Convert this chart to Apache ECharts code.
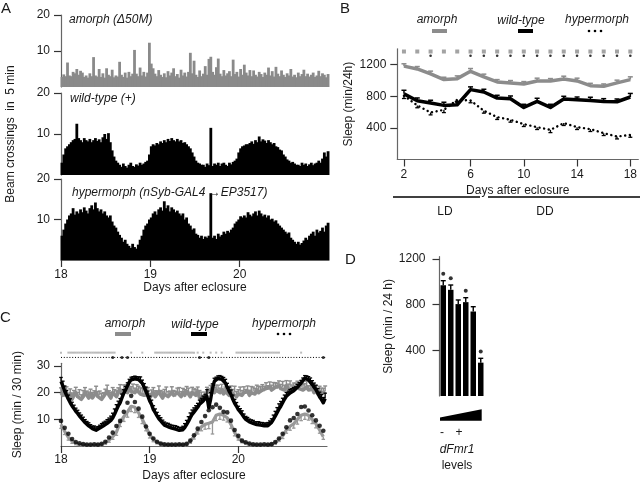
<!DOCTYPE html>
<html><head><meta charset="utf-8">
<script src="https://cdn.jsdelivr.net/npm/echarts@6/dist/echarts.min.js"></script>
<style>html,body{margin:0;padding:0;background:#fff}#c{width:640px;height:483px}</style>
</head><body><div id="c"></div>
<script>
// ---------- Panel A: beam crossings per bin (30-min display bins, days 18-21) ----------
const histStartDay = 18;
const histBinsPerDay = 48;
const histAmorph = [2.8,3.5,3,6.8,3.2,3,4.2,3.8,5,3.4,
4.5,4,2.8,3.2,2.6,3.8,3,8.3,3.2,2.9,
5,2.8,3.8,2.6,5.2,3.4,3,4.8,2.7,3.2,
2.9,7,3.4,2.8,4,2.6,4.2,3,3.7,10.3,
3.7,3,5.4,3.2,4.2,2.9,4,12.3,6.5,5.2,
3.7,3,4.7,3.4,2.8,3.8,2.7,4.4,3.2,4,
5.2,3,3.6,2.6,4.8,3.2,4,2.9,4.2,9.5,
3.8,7.3,3.4,2.8,4.6,3,3.7,5.8,3.4,7.8,
8.4,4.2,3.4,5.5,7.9,3.7,3,4.7,3.2,3.8,
4.4,3,7.6,3.6,4.2,2.9,5,3.4,6.2,4,
3.2,4.7,3,4.6,3.4,2.9,4.2,3.6,2.8,4,
3.4,5.4,3.2,4.4,2.9,5.6,3.7,3,4.6,3.4,
2.8,3.8,3.2,5,2.9,3.4,2.7,4,3,3.6,
4.8,3,3.7,2.9,3.4,4,2.8,3.2,4.5,3,
3.8,3.4,2.7,3.6];
const histWild = [3,5,6.5,7, 7.5,8,8.5,8.8, 12.5,
9,8.5,8,9,8.5,8.2,8.8,8,8.5,9,8.3,8.7,8,9.2,10,8.8,10.2,
8,6,4.5,3.5,3,
2.5,2,2.8,2.2,1.8,2.5,3,2.2,2,2.6,2.3,3,2.5,2.8,3.2,3.5,
5,7,7.5,
7.2,7.8,7.5,8.2,7.8,8.5,8,8.8,8.3,9,8.5,8.2,8.8,8.2,8.5,7.8,8,7.5,7,6.5,
5.5,4.5,3.5,3,2.8,2.5,
2.5,2,2.8,2.4,11.5,2.2,2.8,
2.5,3,2.2,2.8,3,2.5,2.2,3,2.6,3.2,3.5,4,
5.5,6.5,7,7.2,7.5,
7.5,7.8,8.2,7.6,8.5,8,9.4,8.2,8.7,8.4,7.8,8.5,8,7.5,7.8,7,6.8,6.2,6,
5,4.5,3.8,3.5,3,3.2,2.8,2.5,
2.5,2.2,3,2.5,2.8,2.2,2.6,3,2.4,2.8,3,3.5,3,4,5.5,4.5,5.8];
const histHyper = [6,7.5,9,10,11, 11.5,12.8,11.2,12,11.5, 12.5,11.8,13,12.2,11.5,12.8,
13.5,12.5,14.2,12.8,12,12.5, 11.5,12,11,10.5,11, 9.5,8.5,8,7,6.2, 5.5,4.5,5,4,3.5,
3,4,3.2,2.8,3.8,5, 6,7.5,8.5,9,10, 10.5,11.5,12,11.2,12.5,13, 12.2,14.5,12.8,13.5,12,13,
12.5,11.8,12.2,11.5,11,11.5, 10,10.5,9,8.5,7.5, 7.8,6.5,6.2,5.5,6,5.2, 5.8,5.5,6,16.5,
5.5,6,5.2,6.5,5.8,6.2,7, 6.5,7.2,6.8,7.5,8, 9,9.5,10,10.8,10.5, 11,10.5,11.8,11.2,10.8,11.5,
12,11,12.2,11.5,10.8,11.2, 10.5,11,10,10.2,9.5, 9.8,9,8.5,8,7.5, 7,6.5,6.8,5.5,5,
4.5,4,4.5,3.8,4.2, 4.8,5.5,5,6,6.5, 7,6,7.5,6.8,7.2, 8,7,8.5,9.2];
const histTicks = [18,19,20];
const histYTicks = [10,20];

// ---------- Panel B: daily sleep (min/24h) ----------
const bDays = [1,2,3,4,5,6,7,8,9,10,11,12,13,14,15,16,17,18];
const bTickValues = [1,6,10,14,18];
const bTickLabels = ['2','6','10','14','18'];
const bAmorph = [1180,1145,1082,1010,1022,1115,1044,980,968,955,993,993,1018,993,933,925,968,1010];
const bAmorphErr = [30,30,35,30,35,35,35,30,30,30,35,30,35,35,30,30,35,35];
const bWild = [830,743,714,684,692,883,853,777,768,658,734,658,764,755,747,734,730,790];
const bWildErr = [45,35,35,40,40,35,35,35,35,40,40,40,35,35,40,35,35,45];
const bHyper = [806,684,594,628,755,747,616,536,502,447,409,375,460,409,384,333,290,311];
const bHyperErr = [35,30,30,35,35,30,30,30,30,30,30,35,30,30,30,30,30,30];
const bSigAmorphDays = [1,2,3,4,5,6,7,8,9,10,11,12,13,14,15,16,17,18];
const bSigHyperDays = [3,6,7,8,9,10,11,12,13,14,15,16,17,18];

// ---------- Panel C: sleep per 30 min, days 18-21 ----------
const cStartDay = 18;
const cBinsPerDay = 48;
const cHoursPerDay = 24;
const cWild = [24.2,22.5,20.5,19,17.5,16.2,15,14,13,12.2,
11.2,10.5,9.6,8.8,8.2,7.5,6.9,6.5,6.2,5.9,
6.3,6.7,7.2,7.6,8.1,8.5,9,9.6,10.5,11.9,
13.5,15,16.2,18,19.8,21.1,22.6,24,24.8,25,
25.2,25,24.9,24.8,23.5,22,20.5,18.8,16.9,15.6,
13.6,12.5,11.3,10.2,9.4,8.6,7.8,7.5,7.2,6.9,
6.7,6.5,6.3,6.1,5.9,5.7,6.1,6.9,8,9.2,
10.6,11.8,12.7,13.6,14.5,15.6,16.2,16.9,17.4,18.6,
14.3,17.5,21.5,24.2,24.8,25.3,25.4,25,24.5,23.6,
22,20.5,19.3,17.5,16,14.9,13.6,12.8,11.9,10.8,
10,9.5,9,8.8,8.5,8.1,8,7.9,7.8,7.7,
7.6,7.5,7.6,8.1,8.8,10,11.2,12.5,13.8,14.9,
16.2,17.5,18.6,19.2,19.9,20.3,20.7,21.1,22,22.8,
23.6,24.5,25.4,25.2,24.8,24.2,23,22,21.1,19.8,
18.4,17.4,16.2,17.8];
const cWildErr = [1.5,1.8,2,1.8,1.6,1.5,1.4,1.3,1.2,1.2,
1.2,1.1,1.2,1.1,1,1.2,1.1,1,1.3,1.2,
1,1.1,1.2,1.3,1.2,1.4,1.5,1.6,1.8,2,
2,1.8,1.6,1.5,1.3,1.2,1.1,1,1,1,
1,1,1,1.1,1.2,1.4,1.6,1.8,1.8,1.6,
1.5,1.4,1.3,1.2,1.2,1.1,1.2,1.1,1.3,1.2,
1.1,1.2,1.3,1.2,1.1,1.2,1.3,1.5,1.6,1.8,
1.8,1.7,1.6,1.5,1.5,1.6,1.7,1.8,2,2.5,
3,2.5,1.8,1.2,1,1,1,1.1,1.2,1.4,
1.5,1.6,1.7,1.6,1.5,1.4,1.3,1.2,1.3,1.2,
1.1,1.2,1.1,1,1.1,1,1.1,1.2,1,1.1,
1,1.1,1.2,1.3,1.4,1.6,1.8,1.9,2,1.8,
1.7,1.6,1.5,1.4,1.3,1.2,1.2,1.1,1.1,1,
1,1,1,1.1,1.2,1.3,1.5,1.6,1.7,1.8,
1.8,1.9,2,2];
const cAmorph = [20,19,18.5,20,18,19.5,17.5,19,20,18.5,
19,17.5,18.5,20,19,18,19.5,18,19,20,
18.5,19,17.5,18,19.5,20.5,19,18,20,19.5,
18.5,20,21,19.5,20.5,21,20,21.5,20.5,21,
20,21,20.5,19.5,20,19,18.5,19.5,18,19,
20,18.5,19,20.5,19,18,19.5,20,18.5,19,
20,19,18.5,20,19.5,18.5,20,19,20.5,19.5,
18.5,20,19.5,19,20.5,18,17,16.5,18.5,20,
19.5,20.5,21,20,21,20.5,20,21,19.5,20.5,
20,19,20.5,19.5,20,18.5,19.5,20,19,20,
19.5,20.5,19,20,20.5,19.5,21,20,20.5,21,
20.5,21.5,21,22,21,21.5,22,21.5,22.5,21.5,
22,21,22.5,21.5,22,21,22,21.5,22.5,21.5,
22,21,21.5,22,21,20.5,21.5,20,21,19.5,
20.5,19.5,20,20.5];
const cAmorphErr = [1.8,2,1.6,2.2,1.7,1.9,2.4,1.8,2,1.6,
2.1,1.7,2.3,1.9,1.6,2.2,1.8,2,1.7,2.4,
1.9,1.6,2.2,2,1.8,2.3,1.7,2.1,1.9,1.6,
2.2,1.8,2,1.7,2.4,1.9,1.6,2.1,1.8,2.2,
1.7,2,1.9,2.3,1.6,2.1,1.8,2.4,1.7,2,
1.9,2.2,1.6,2,1.8,2.3,1.7,2.1,1.9,1.6,
2.2,1.8,2,1.7,2.4,1.9,1.6,2.1,1.8,2.2,
1.7,2,1.9,2.3,1.6,2.8,3.2,2.5,1.7,2,
1.9,2.2,1.6,2,1.8,2.3,1.7,2.1,1.9,1.6,
2.2,1.8,2,1.7,2.4,1.9,1.6,2.1,1.8,2.2,
1.7,2,1.9,2.3,1.6,2.1,1.8,2.4,1.7,2,
1.9,2.2,1.6,2,1.8,2.3,1.7,2.1,1.9,1.6,
2.2,1.8,2,1.7,2.4,1.9,1.6,2.1,1.8,2.2,
1.7,2,1.9,2.3,1.6,2.1,1.8,2.4,1.7,2,
1.9,2.2,1.6,2];
// hourly values
const cHyper = [9.4,6.8,4.6,2.6,1.5,1,0.7,0.5,0.5,0.6,0.5,0.8,
1.6,3.2,5,7.5,9.4,12.8,16.2,18.8,16.5,14,11,7.3,
4.6,2.8,1.6,0.9,0.6,0.5,0.5,0.5,0.6,0.5,0.8,2,
4,6.5,9,11.2,13.4,14.5,15.5,14.3,12.8,12.6,9.5,6,
3.8,2,1.4,0.9,0.6,0.5,0.5,0.6,0.5,0.7,1.5,2.8,
4.6,7,9.6,10.5,12,14.6,14.8,13.3,11.5,9.6,7.6,5.7];
const cLow = [8.1,5.5,3.2,1.8,1,0.5,0.4,0.3,0.3,0.3,0.4,0.5,
1.2,2.2,3.5,5.2,8.8,11,12.8,14.9,14.5,12.5,10,7.2,
4.2,2.4,1.4,0.8,0.5,0.4,0.3,0.3,0.4,0.4,0.6,1.8,
3.6,5.7,7.2,8.1,8.5,9,11.5,12,11.5,10.6,8.1,5,
3,1.8,1,0.6,0.4,0.3,0.3,0.3,0.4,0.6,1.2,2.5,
3.8,6,7.4,8.3,10,11.5,12,11.5,10,8.3,6,3.5];
const cLowErr = [1.5,1.2,1,0.8,0.5,0.3,0.3,0.2,0.2,0.2,0.3,0.3,
0.6,0.8,1,1.2,1.5,1.8,2,2,2,1.8,1.6,1.5,
1.2,0.8,0.6,0.4,0.3,0.2,0.2,0.2,0.3,0.3,0.4,0.8,
1,1.2,1.5,1.8,2,4.5,2,2,1.8,1.6,1.5,1.2,
0.8,0.6,0.4,0.3,0.2,0.2,0.2,0.3,0.3,0.4,0.6,0.8,
1,1.2,1.5,1.6,1.8,2,2,1.8,1.6,1.5,1.2,1];
const cSigAmorphBins = [0,4,5,6,7,8,9,10,11,12,13,14,15,16,17,18,19,20,21,22,23,24,25,26,27,28,29,38,44,
51,52,53,54,55,56,57,58,59,60,61,62,63,64,65,66,67,68,69,70,71,72,74,77,81,84,87,
95,96,97,98,99,100,101,102,103,104,105,106,107,108,109,110,111,112,113,114,115,116,117,118,130];
const cSigHyperBins = [28,33,36,75,80,142];
const cTicks = [18,19,20];
const cYTicks = [10,20,30];

// ---------- Panel D: sleep vs dFmr1 level ----------
const dGroups = ['1','2','3','4','5','6'];
const dSleep = [970,930,805,822,740,292];
const dErr = [40,42,36,39,42,38];
const dSigIdx = [0,1,3,5];
const dYTicks = [400,800,1200];

// ---------- rendering ----------
const FONT = '"Liberation Sans", Arial, sans-serif';
const GRAY = '#8c8c8c';
const INK = '#1a1a1a';

const histData = arr => arr.map((v, i) => [histStartDay + (i + 0.5) / histBinsPerDay, v]);
const cBinData = arr => arr.map((v, i) => [cStartDay + i / cBinsPerDay, v]);
const cHourData = arr => arr.map((v, i) => [cStartDay + i / cHoursPerDay, v]);

function errSeries(xi, yi, pts, dir, color, capW, lw, z) {
  return {
    type: 'custom', xAxisIndex: xi, yAxisIndex: yi, z: z, silent: true, clip: false,
    data: pts,
    renderItem: (params, api) => {
      const x = api.value(0), y = api.value(1), e = api.value(2);
      const p0 = api.coord([x, y]);
      const p1 = api.coord([x, y + dir * e]);
      return { type: 'group', children: [
        { type: 'line', shape: { x1: p0[0], y1: p0[1], x2: p1[0], y2: p1[1] }, style: { stroke: color, lineWidth: lw } },
        { type: 'line', shape: { x1: p1[0] - capW / 2, y1: p1[1], x2: p1[0] + capW / 2, y2: p1[1] }, style: { stroke: color, lineWidth: lw } }
      ]};
    }
  };
}

function txt(text, x, y, o) {
  o = o || {};
  return { type: 'text', x: x, y: y, rotation: o.rot || 0, silent: true, z: 100,
    style: { text: text, fill: INK, font: (o.italic ? 'italic ' : '') + (o.size || 12) + 'px ' + FONT,
      align: o.align || 'center', verticalAlign: o.va || 'middle' } };
}
function seg(x1, y1, x2, y2, color, w) {
  return { type: 'line', silent: true, z: 100, shape: { x1, y1, x2, y2 }, style: { stroke: color, lineWidth: w } };
}
function dot(cx, cy, r) {
  return { type: 'circle', silent: true, z: 100, shape: { cx, cy, r }, style: { fill: '#000' } };
}

const axLine = { show: true, lineStyle: { color: '#666', width: 1.2 } };
const tickStyle = { color: '#333', width: 1.2 };
const lab = { color: INK, fontSize: 12, fontFamily: FONT };
const plain = v => String(v);

function histY(grid) {
  return { gridIndex: grid, type: 'value', min: 0, max: 20,
    axisLine: axLine, splitLine: { show: false },
    axisTick: { show: true, length: 7, customValues: histYTicks, lineStyle: tickStyle },
    axisLabel: Object.assign({ customValues: histYTicks, margin: 11, formatter: plain }, lab) };
}
function hiddenX(grid) {
  return { gridIndex: grid, type: 'value', min: 18, max: 21, show: false };
}
function histSeries(name, grid, arr, color) {
  return { name: name, type: 'bar', xAxisIndex: grid, yAxisIndex: grid, data: histData(arr),
    barWidth: 2.8, itemStyle: { color: color } };
}

const option = {
  animation: false,
  backgroundColor: '#fff',
  textStyle: { fontFamily: FONT },
  grid: [
    { left: 61, top: 15, width: 268, height: 72 },
    { left: 61, top: 93, width: 268, height: 82 },
    { left: 61, top: 179, width: 268, height: 81 },
    { left: 397.3, top: 48.75, width: 242.7, height: 110.75 },
    { left: 61, top: 363.3, width: 266, height: 83.2 },
    { left: 439.5, top: 256.7, width: 45, height: 139.3 }
  ],
  xAxis: [
    hiddenX(0), hiddenX(1),
    { gridIndex: 2, type: 'value', min: 18, max: 21, axisLine: axLine, splitLine: { show: false },
      axisTick: { show: true, length: 7, customValues: histTicks, lineStyle: tickStyle },
      axisLabel: Object.assign({ customValues: histTicks, margin: 9, formatter: plain }, lab),
      name: 'Days after eclosure', nameLocation: 'middle', nameGap: 28,
      nameTextStyle: Object.assign({ verticalAlign: 'middle' }, lab) },
    { gridIndex: 3, type: 'value', min: 0.5, max: 18.6, axisLine: axLine, splitLine: { show: false },
      axisTick: { show: true, length: 7, customValues: bTickValues, lineStyle: tickStyle },
      axisLabel: Object.assign({ customValues: bTickValues, margin: 9,
        formatter: v => bTickLabels[bTickValues.indexOf(v)] }, lab),
      name: 'Days after eclosure', nameLocation: 'middle', nameGap: 31,
      nameTextStyle: Object.assign({ verticalAlign: 'middle' }, lab) },
    { gridIndex: 4, type: 'value', min: 18, max: 21, axisLine: axLine, splitLine: { show: false },
      axisTick: { show: true, length: 7, customValues: cTicks, lineStyle: tickStyle },
      axisLabel: Object.assign({ customValues: cTicks, margin: 8, formatter: plain }, lab),
      name: 'Days after eclosure', nameLocation: 'middle', nameGap: 30,
      nameTextStyle: Object.assign({ verticalAlign: 'middle' }, lab) },
    { gridIndex: 5, type: 'category', data: dGroups, axisLine: { show: false }, axisTick: { show: false },
      axisLabel: { show: false } }
  ],
  yAxis: [
    histY(0), histY(1), histY(2),
    { gridIndex: 3, type: 'value', min: 0, max: 1400, axisLine: axLine, splitLine: { show: false },
      axisTick: { show: true, length: 7, customValues: [400, 800, 1200], lineStyle: tickStyle },
      axisLabel: Object.assign({ customValues: [400, 800, 1200], margin: 11, formatter: plain }, lab),
      name: 'Sleep (min/24h)', nameLocation: 'middle', nameGap: 49,
      nameTextStyle: Object.assign({ verticalAlign: 'middle' }, lab) },
    { gridIndex: 4, type: 'value', min: 0, max: 31, axisLine: axLine, splitLine: { show: false },
      axisTick: { show: true, length: 7, customValues: cYTicks, lineStyle: tickStyle },
      axisLabel: Object.assign({ customValues: cYTicks, margin: 11, formatter: plain }, lab),
      name: 'Sleep (min / 30 min)', nameLocation: 'middle', nameGap: 43,
      nameTextStyle: Object.assign({ verticalAlign: 'middle' }, lab) },
    { gridIndex: 5, type: 'value', min: 0, max: 1220, axisLine: axLine, splitLine: { show: false },
      axisTick: { show: true, length: 7, customValues: dYTicks, lineStyle: tickStyle },
      axisLabel: Object.assign({ customValues: dYTicks, margin: 14, formatter: plain }, lab),
      name: 'Sleep (min / 24 h)', nameLocation: 'middle', nameGap: 50,
      nameTextStyle: Object.assign({ verticalAlign: 'middle' }, lab) }
  ],
  series: [
    // A
    histSeries('amorph', 0, histAmorph, '#8a8a8a'),
    histSeries('wild-type', 1, histWild, '#000'),
    histSeries('hypermorph', 2, histHyper, '#000'),
    // B
    { name: 'amorph', type: 'line', xAxisIndex: 3, yAxisIndex: 3, data: bDays.map((d, i) => [d, bAmorph[i]]),
      showSymbol: false, lineStyle: { color: GRAY, width: 3.5, join: 'round' }, z: 3 },
    errSeries(3, 3, bDays.map((d, i) => [d, bAmorph[i], bAmorphErr[i]]), 1, GRAY, 5, 1.5, 3),
    { name: 'wild-type', type: 'line', xAxisIndex: 3, yAxisIndex: 3, data: bDays.map((d, i) => [d, bWild[i]]),
      showSymbol: false, lineStyle: { color: '#000', width: 3.5, join: 'round' }, z: 4 },
    errSeries(3, 3, bDays.map((d, i) => [d, bWild[i], bWildErr[i]]), 1, '#000', 5, 1.5, 4),
    { name: 'hypermorph', type: 'line', xAxisIndex: 3, yAxisIndex: 3, data: bDays.map((d, i) => [d, bHyper[i]]),
      showSymbol: false, lineStyle: { color: '#000', width: 2.4, type: [0.1, 4.6], cap: 'round' }, z: 5 },
    errSeries(3, 3, bDays.map((d, i) => [d, bHyper[i], bHyperErr[i]]), -1, '#000', 4, 1.3, 5),
    { type: 'scatter', xAxisIndex: 3, yAxisIndex: 3, data: bSigAmorphDays.map(d => [d, 1365]),
      symbol: 'rect', symbolSize: 4, itemStyle: { color: GRAY }, clip: false, silent: true },
    { type: 'scatter', xAxisIndex: 3, yAxisIndex: 3, data: bSigHyperDays.map(d => [d, 1312]),
      symbol: 'circle', symbolSize: 2.6, itemStyle: { color: '#000' }, clip: false, silent: true },
    // C
    { name: 'amorph', type: 'line', xAxisIndex: 4, yAxisIndex: 4, data: cBinData(cAmorph),
      showSymbol: false, lineStyle: { color: GRAY, width: 3.6, join: 'round' }, z: 3 },
    errSeries(4, 4, cAmorph.map((v, i) => [cStartDay + i / cBinsPerDay, v, cAmorphErr[i]]), 1, GRAY, 4, 1.4, 3),
    { name: 'wild-type', type: 'line', xAxisIndex: 4, yAxisIndex: 4, data: cBinData(cWild),
      showSymbol: false, lineStyle: { color: '#000', width: 3.4, join: 'round' }, z: 4 },
    errSeries(4, 4, cWild.map((v, i) => [cStartDay + i / cBinsPerDay, v, cWildErr[i]]), 1, '#000', 3.5, 1.3, 4),
    { name: 'control', type: 'line', xAxisIndex: 4, yAxisIndex: 4, data: cHourData(cLow),
      showSymbol: false, lineStyle: { color: '#999', width: 3.2, join: 'round' }, z: 5 },
    errSeries(4, 4, cLow.map((v, i) => [cStartDay + i / cHoursPerDay, v, cLowErr[i]]), -1, '#999', 3.5, 1.3, 5),
    { name: 'hypermorph', type: 'scatter', xAxisIndex: 4, yAxisIndex: 4, data: cHourData(cHyper),
      symbol: 'circle', symbolSize: 4.6, itemStyle: { color: '#000' }, z: 6 },
    { type: 'scatter', xAxisIndex: 4, yAxisIndex: 4, data: cSigAmorphBins.map(i => [cStartDay + i / cBinsPerDay, 35]),
      symbol: 'rect', symbolSize: 2, itemStyle: { color: '#aaa' }, clip: false, silent: true },
    { type: 'line', xAxisIndex: 4, yAxisIndex: 4, data: [[18, 33.2], [20.98, 33.2]], showSymbol: false, clip: false,
      lineStyle: { color: '#000', width: 1, type: [1, 1.8] }, silent: true },
    { type: 'scatter', xAxisIndex: 4, yAxisIndex: 4, data: cSigHyperBins.map(i => [cStartDay + i / cBinsPerDay, 33.2]),
      symbol: 'circle', symbolSize: 3, itemStyle: { color: '#000' }, clip: false, silent: true },
    // D
    { name: 'sleep', type: 'bar', xAxisIndex: 5, yAxisIndex: 5, data: dSleep, barWidth: 5.5,
      itemStyle: { color: '#000' } },
    errSeries(5, 5, dSleep.map((v, i) => [i, v, dErr[i]]), 1, '#000', 5, 1.4, 3),
    { type: 'scatter', xAxisIndex: 5, yAxisIndex: 5, data: dSigIdx.map(i => [i, dSleep[i] + dErr[i] + 60]),
      symbol: 'circle', symbolSize: 4, itemStyle: { color: '#000' }, clip: false, silent: true }
  ],
  graphic: [
    txt('A', 1, 9, { size: 15, align: 'left' }),
    txt('B', 340, 9, { size: 15, align: 'left' }),
    txt('C', 0, 318, { size: 15, align: 'left' }),
    txt('D', 345, 260, { size: 15, align: 'left' }),
    txt('amorph (\u039450M)', 69, 20, { italic: true, align: 'left' }),
    txt('wild-type (+)', 70, 99, { italic: true, align: 'left' }),
    txt('hypermorph (nSyb-GAL4 \u2192EP3517)', 72, 193, { italic: true, align: 'left' }),
    txt('Beam crossings  in  5 min', 11, 134, { rot: Math.PI / 2 }),
    // B legend
    txt('amorph', 437, 20, { italic: true }),
    seg(432, 31, 447, 31, GRAY, 4),
    txt('wild-type', 521, 21, { italic: true }),
    seg(518, 31, 533, 31, '#000', 4),
    txt('hypermorph', 597, 20, { italic: true }),
    dot(589, 31, 1.3), dot(595, 31, 1.3), dot(601, 31, 1.3),
    // LD / DD
    seg(393, 197, 480, 197, '#000', 1.3),
    seg(488, 197, 640, 197, '#000', 1.3),
    txt('LD', 445, 212),
    txt('DD', 545, 212),
    // C legend
    txt('amorph', 125, 324, { italic: true }),
    seg(115, 334, 131, 334, GRAY, 4),
    txt('wild-type', 195, 325, { italic: true }),
    seg(191, 334, 207, 334, '#000', 4),
    txt('hypermorph', 284, 324, { italic: true }),
    dot(278, 334, 1.3), dot(284, 334, 1.3), dot(290, 334, 1.3),
    // D annotations
    { type: 'polygon', silent: true, shape: { points: [[440, 417.5], [481.7, 409.3], [481.7, 420.7], [440, 420.7]] },
      style: { fill: '#000' } },
    txt('-', 442, 433),
    txt('+', 459, 433),
    txt('dFmr1', 457, 450, { italic: true }),
    txt('levels', 457, 466)
  ]
};

const chart = echarts.init(document.getElementById('c'), null, { renderer: 'canvas', width: 640, height: 483 });
chart.setOption(option);
</script>
</body></html>
